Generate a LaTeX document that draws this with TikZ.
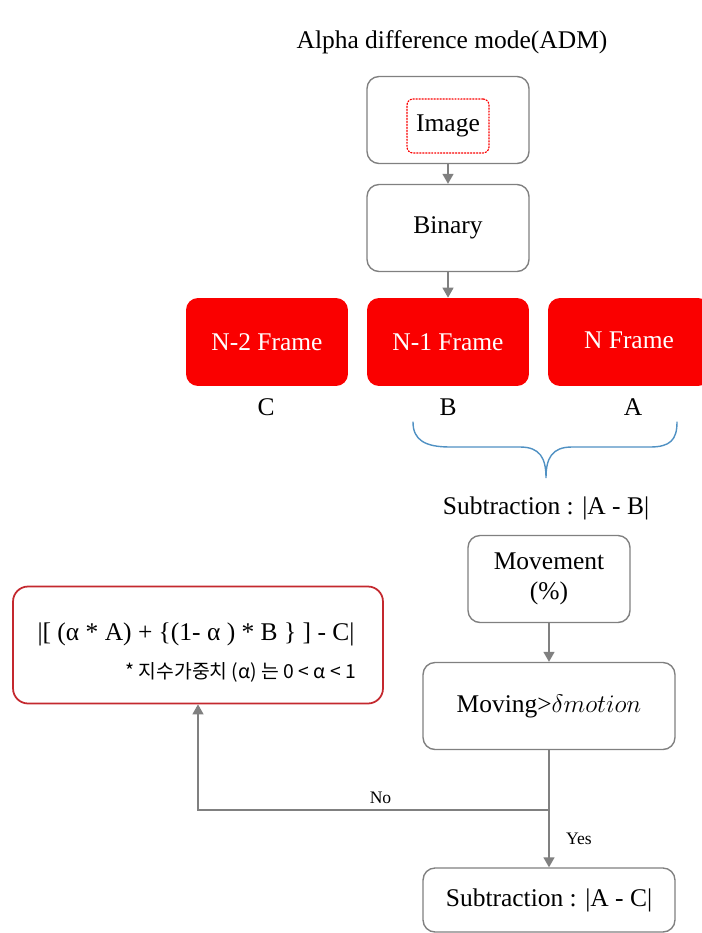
\documentclass[tikz,border=0pt]{standalone}
\usepackage{fontspec}
\setmainfont{Liberation Serif}
\newfontfamily\krfont{Noto Sans CJK KR}
\usetikzlibrary{arrows.meta}
\definecolor{boxgray}{RGB}{128,128,128}
\definecolor{framered}{RGB}{250,0,0}
\definecolor{noteborder}{RGB}{196,40,46}
\definecolor{braceblue}{RGB}{80,145,195}
\begin{document}
\begin{tikzpicture}[x=0.02cm,y=-0.02cm,line cap=round,
    every node/.style={font=\fontsize{14.5}{17}\selectfont},
    stepbox/.style={draw=boxgray,line width=0.8pt,rounded corners=0.24cm,
      minimum width=3.24cm,minimum height=1.74cm,align=center},
    framebox/.style={fill=framered,text=white,rounded corners=0.24cm,
      minimum width=3.24cm,minimum height=1.76cm},
    flow/.style={draw=boxgray,line width=0.8pt,-{Triangle[width=0.22cm,length=0.2cm]}},
    small/.style={font=\fontsize{10}{12}\selectfont}]
  \useasboundingbox (0,0) rectangle (701,933);
  \node (title) at (452,42) {Alpha difference mode(ADM)};
  % input and binary steps
  \node[stepbox] (image) at (448,120) {};
  \node[draw=framered,densely dotted,line width=0.7pt,rounded corners=0.12cm,
    minimum width=1.64cm,minimum height=1.08cm] (imagein) at (448,126) {Image};
  \node[stepbox] (binary) at (448,228) {Binary};
  % three frames
  \node[framebox] (nTwo) at (267,342) {N-2 Frame};
  \node[framebox] (nOne) at (448,342) {N-1 Frame};
  \node[framebox] (nZero) at (629,342) {\raisebox{2pt}{N Frame}};
  \node (labC) at (266,407) {C};
  \node (labB) at (448,407) {B};
  \node (labA) at (633,407) {A};
  % brace under B and A
  \draw[braceblue,line width=0.8pt] (413,422) .. controls (413,440) and (425,447) .. (450,447)
    -- (520,447) .. controls (540,447) and (546,458) .. (546,478)
    .. controls (546,458) and (552,447) .. (572,447) -- (650,447)
    .. controls (670,447) and (677,440) .. (677,422);
  \node (subAB) at (546,508) {Subtraction : |A - B|};
  \node[stepbox] (movement) at (549,579) {Movement\\(\%)};
  \node[stepbox,minimum width=5.04cm] (moving) at (549,706) {Moving>$\delta motion$};
  \node[stepbox,minimum width=5.04cm,minimum height=1.28cm] (subAC) at (549,900) {Subtraction : |A - C|};
  % weighted formula
  \node[draw=noteborder,line width=1pt,rounded corners=0.3cm,
    minimum width=7.4cm,minimum height=2.34cm] (formula) at (198,645) {};
  \node (formtext) at (196,634) {|[ (α * A) + \{(1- α ) * B \} ] - C|};
  \node[anchor=east,font=\krfont\fontsize{11}{13}\selectfont] (note) at (362,672)
    {* 지수가중치 (α) 는 0 < α < 1};
  \coordinate (junc) at (549,810);
  \draw[flow] (image) -- (binary);
  \draw[flow] (binary) -- (nOne);
  \draw[flow] (movement) -- (moving);
  \draw[boxgray,line width=0.8pt] (moving) -- (junc);
  \draw[flow] (junc) -- node[right,small,xshift=6pt] {Yes} (subAC);
  \draw[flow] (junc) -| node[pos=0.24,above,small] {No} (formula.south);
\end{tikzpicture}
\end{document}
